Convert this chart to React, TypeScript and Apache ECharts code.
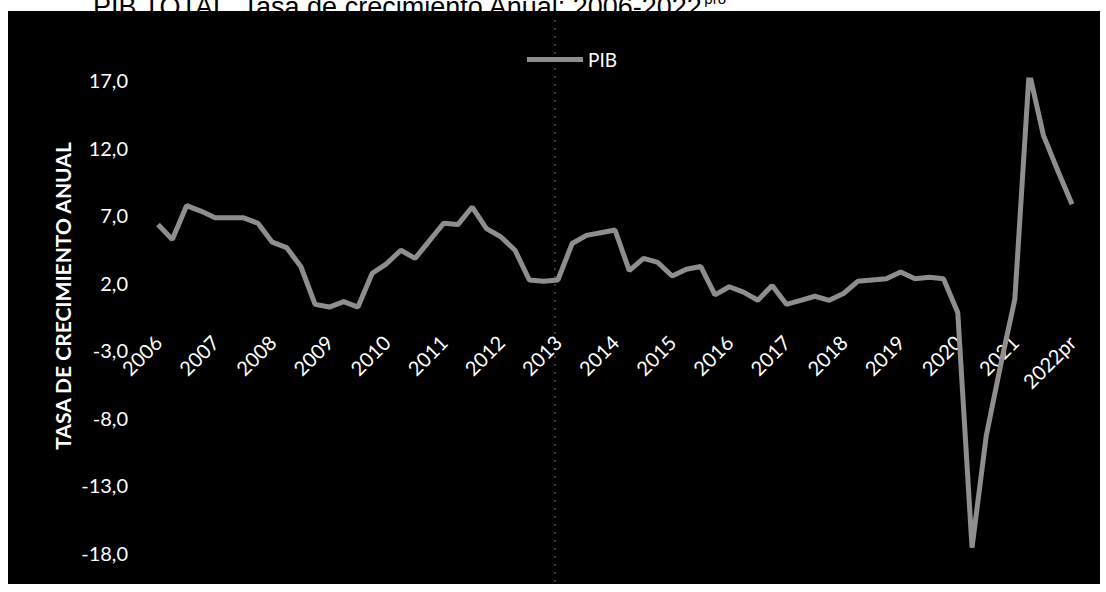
import React, { useEffect, useRef } from 'react';
import * as echarts from 'echarts';

const titleMain = 'PIB TOTAL, Tasa de crecimiento Anual: 2006-2022';
const titleSup = 'pro';
const seriesName = 'PIB';
const yAxisTitle = 'TASA DE CRECIMIENTO ANUAL';

const yearLabels = [
  '2006', '2007', '2008', '2009', '2010', '2011', '2012', '2013', '2014',
  '2015', '2016', '2017', '2018', '2019', '2020', '2021', '2022pr',
];
const quarterNames = ['I', 'II', 'III', 'IV'];

// Quarterly annual growth rate, 2006-I .. 2022-I
const pibGrowth = [
  6.3, 5.2, 7.7, 7.3,
  6.8, 6.8, 6.8, 6.4,
  5.0, 4.6, 3.2, 0.4,
  0.2, 0.6, 0.2, 2.7,
  3.4, 4.4, 3.8, 5.1,
  6.4, 6.3, 7.6, 6.0,
  5.4, 4.4, 2.2, 2.1,
  2.2, 4.9, 5.5, 5.7,
  5.9, 2.9, 3.8, 3.5,
  2.5, 3.0, 3.2, 1.1,
  1.7, 1.3, 0.7, 1.8,
  0.4, 0.7, 1.0, 0.7,
  1.2, 2.1, 2.2, 2.3,
  2.8, 2.3, 2.4, 2.3,
  -0.2, -17.6, -9.3, -4.1,
  0.8, 17.6, 12.9, 10.3,
  7.8,
];

const yMin = -18;
const yMax = 17;
const yStep = 5;

const categories: string[] = [];
yearLabels.forEach((y, k) => {
  const n = k === yearLabels.length - 1 ? 1 : 4;
  for (let q = 0; q < n; q++) categories.push(`${y} ${quarterNames[q]}`);
});

const W = 1106;
const H = 592;
const gridTop = 80;
const gridBottom = 39;
// the category axis crosses the value axis at 0 (as in the original chart)
const xAxisOffset = -((H - gridTop - gridBottom) * (0 - yMin)) / (yMax - yMin);

export default function App() {
  const ref = useRef<HTMLDivElement>(null);

  useEffect(() => {
    if (!ref.current) return;
    const chart = echarts.init(ref.current, undefined, { renderer: 'svg' });
    const lineColor = '#8e8e8e';
    chart.setOption({
      animation: false,
      backgroundColor: 'transparent',
      title: {
        text: `{m|${titleMain}}{s|${titleSup}}`,
        left: 88,
        top: -14,
        textStyle: {
          fontWeight: 'normal',
          rich: {
            m: { fontFamily: 'Liberation Sans', fontSize: 27, fontWeight: 'normal', color: '#000', lineHeight: 31 },
            s: { fontFamily: 'Liberation Sans', fontSize: 15, fontWeight: 'normal', color: '#000', verticalAlign: 'top', lineHeight: 31 },
          },
        },
      },
      legend: {
        data: [{ name: seriesName, icon: 'rect' }],
        left: 522,
        top: 45,
        itemWidth: 56,
        itemHeight: 5,
        textStyle: { color: '#fff', fontSize: 19, fontFamily: 'Lato' },
      },
      grid: { left: 158, right: 34, top: gridTop, bottom: gridBottom, containLabel: false, outerBoundsMode: 'none' },
      xAxis: {
        type: 'category',
        data: categories,
        boundaryGap: false,
        position: 'bottom',
        offset: xAxisOffset,
        axisLine: { show: false, onZero: false },
        axisTick: { show: false },
        splitLine: { show: false },
        axisLabel: {
          interval: 3,
          rotate: 45,
          margin: 29,
          color: '#fff',
          fontSize: 20,
          fontFamily: 'Lato',
          formatter: (v: string) => v.split(' ')[0],
        },
      },
      yAxis: {
        type: 'value',
        min: yMin,
        max: yMax,
        interval: yStep,
        axisLine: { show: false },
        axisTick: { show: false },
        splitLine: { show: false },
        axisLabel: {
          margin: 30,
          color: '#fff',
          fontSize: 20,
          fontFamily: 'Lato',
          formatter: (v: number) => v.toFixed(1).replace('.', ','),
        },
      },
      graphic: [
        {
          type: 'line',
          silent: true,
          shape: { x1: 555, y1: 12, x2: 555, y2: 584 },
          style: { stroke: '#bbbbbb', lineWidth: 1, lineDash: [2, 6], opacity: 0.6 },
        },
        {
          type: 'text',
          x: 62,
          y: 296,
          rotation: Math.PI / 2,
          style: {
            text: yAxisTitle,
            fill: '#fff',
            font: 'bold 21px Lato',
            align: 'center',
            verticalAlign: 'middle',
          },
        },
      ],
      series: [
        {
          name: seriesName,
          type: 'line',
          data: pibGrowth,
          symbol: 'none',
          lineStyle: { color: lineColor, width: 5 },
          itemStyle: { color: lineColor },
        },
      ],
    });
    return () => chart.dispose();
  }, []);

  return (
    <div style={{ position: 'fixed', left: 0, top: 0, width: W, height: H, background: '#fff', overflow: 'hidden' }}>
      <div style={{ position: 'absolute', left: 8, top: 11, width: 1092, height: 573, background: '#000' }} />
      <div ref={ref} style={{ position: 'absolute', left: 0, top: 0, width: W, height: H }} />
    </div>
  );
}
